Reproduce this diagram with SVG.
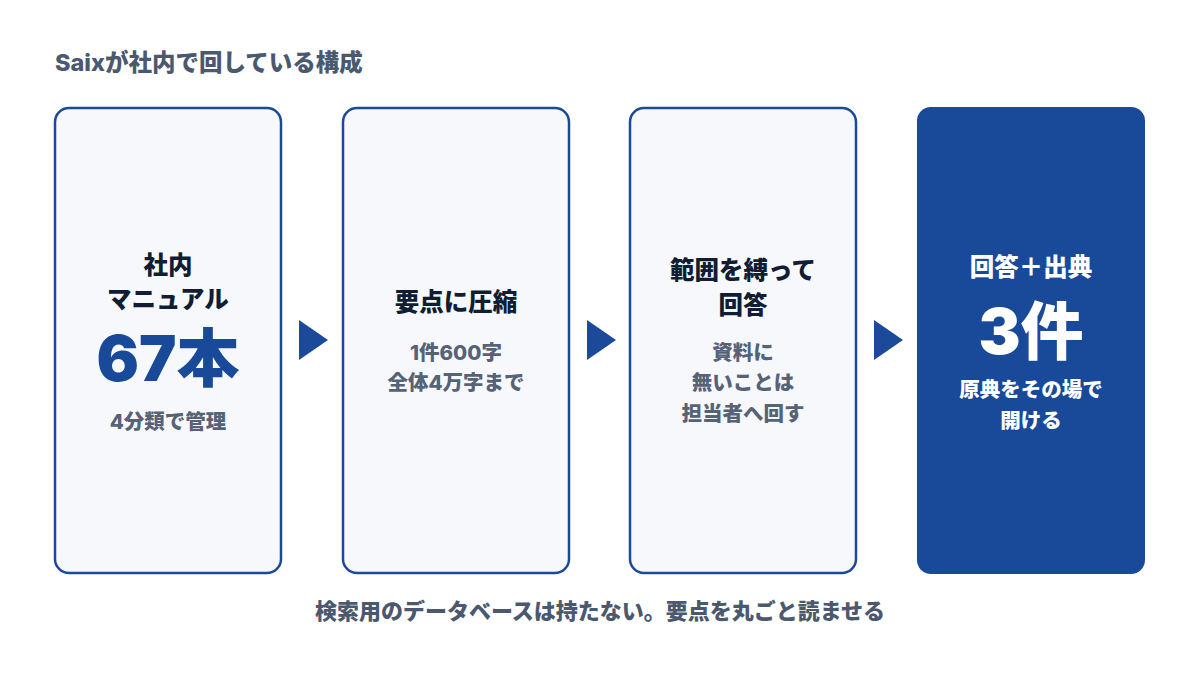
<svg xmlns="http://www.w3.org/2000/svg" width="1200" height="675" viewBox="0 0 1200 675">
<style>
text{font-family:Inter,"Noto Sans CJK JP",sans-serif;font-weight:800;text-anchor:middle}
.card{fill:#f6f8fc;stroke:#1a4a99;stroke-width:2.5}
.cardd{fill:#184a99}
.h{font-size:24.5px;fill:#101d33}
.hw{font-size:24.5px;fill:#ffffff}
.big{font-size:63px;fill:#184a99;font-weight:900}
.bigw{font-size:63px;fill:#ffffff;font-weight:900}
.s{font-size:20.5px;fill:#566276}
.sw{font-size:20.5px;fill:#ffffff}
.arrow{fill:#1a4a99}
.cap{font-size:22px;fill:#4b596e}
</style>
<rect width="1200" height="675" fill="#ffffff"/>
<text class="cap" x="55" y="71" style="text-anchor:start;font-size:23.5px">Saixが社内で回している構成</text>
<g id="node1">
<rect class="card" x="55" y="108" width="226" height="465" rx="14"/>
<text class="h" x="168" y="274">社内</text>
<text class="h" x="168" y="308">マニュアル</text>
<text class="big" x="168" y="381">67本</text>
<text class="s" x="168" y="429">4分類で管理</text>
</g>
<g id="node2">
<rect class="card" x="343" y="108" width="226" height="465" rx="14"/>
<text class="h" x="456" y="311">要点に圧縮</text>
<text class="s" x="456" y="360">1件600字</text>
<text class="s" x="456" y="390">全体4万字まで</text>
</g>
<g id="node3">
<rect class="card" x="630" y="108" width="226" height="465" rx="14"/>
<text class="h" x="743" y="279">範囲を縛って</text>
<text class="h" x="743" y="314">回答</text>
<text class="s" x="743" y="360">資料に</text>
<text class="s" x="743" y="390">無いことは</text>
<text class="s" x="743" y="421">担当者へ回す</text>
</g>
<g id="node4">
<rect class="cardd" x="917" y="107" width="228" height="467" rx="14"/>
<text class="hw" x="1031" y="276">回答＋出典</text>
<text class="bigw" x="1031" y="354">3件</text>
<text class="sw" x="1031" y="397">原典をその場で</text>
<text class="sw" x="1031" y="428">開ける</text>
</g>
<g id="connectors">
<polygon class="arrow" points="299,320 328,340 299,360"/>
<polygon class="arrow" points="587,320 616,340 587,360"/>
<polygon class="arrow" points="874,320 903,340 874,360"/>
</g>
<text class="cap" x="600" y="619">検索用のデータベースは持たない。要点を丸ごと読ませる</text>
</svg>
